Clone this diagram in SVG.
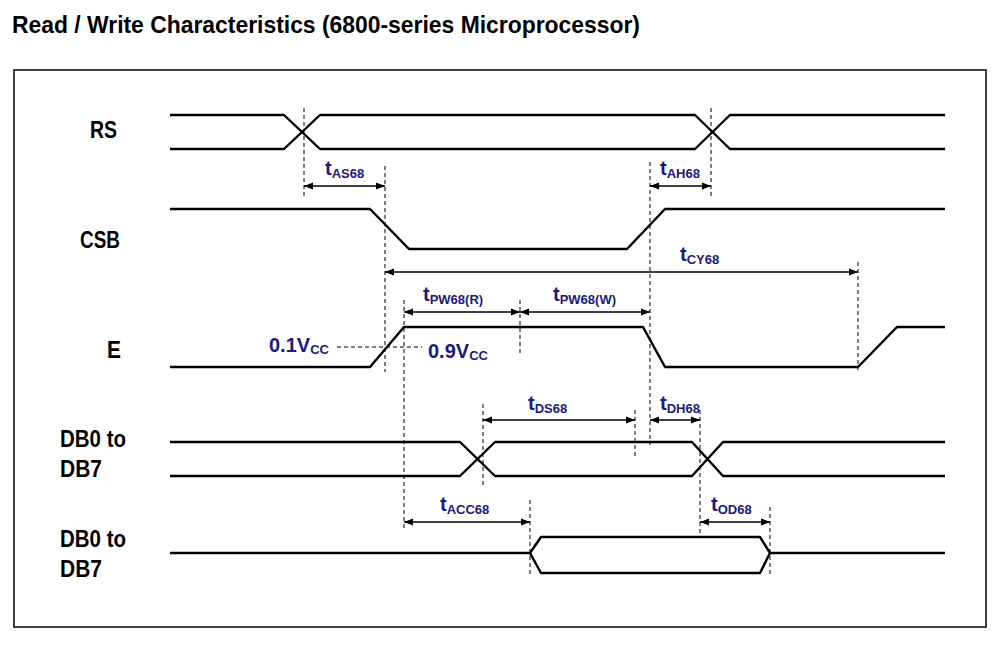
<svg xmlns="http://www.w3.org/2000/svg" width="1000" height="667" viewBox="0 0 1000 667">
<style>
.w{fill:none;stroke:#000;stroke-width:2.4;stroke-linejoin:round}
.d{fill:none;stroke:#000;stroke-width:1;stroke-dasharray:4 3}
.a{fill:none;stroke:#000;stroke-width:1.5;marker-start:url(#ah);marker-end:url(#ah)}
.lb{font-family:"Liberation Sans",Arial,sans-serif;font-weight:bold;font-size:23px;fill:#000}
.t{font-family:"Liberation Sans",Arial,sans-serif;font-weight:bold;font-size:20px;fill:#1a1a80}
.s{font-size:13px}
</style>
<defs><marker id="ah" viewBox="0 0 10 10" refX="10" refY="5" markerWidth="9" markerHeight="9" orient="auto-start-reverse" markerUnits="userSpaceOnUse"><path d="M0,1 L10,5 L0,9 Z" fill="#000"/></marker></defs>
<rect width="1000" height="667" fill="#fff"/>
<text x="12" y="33" class="lb" font-size="25" textLength="628" lengthAdjust="spacingAndGlyphs">Read / Write Characteristics (6800-series Microprocessor)</text>
<rect x="14" y="70" width="972" height="557" fill="none" stroke="#000" stroke-width="1.5"/>
<g id="labels">
<text x="90" y="138" class="lb" textLength="27" lengthAdjust="spacingAndGlyphs">RS</text>
<text x="80" y="248" class="lb" textLength="40" lengthAdjust="spacingAndGlyphs">CSB</text>
<text x="107" y="358" class="lb" textLength="14" lengthAdjust="spacingAndGlyphs">E</text>
<text x="60" y="447" class="lb" textLength="66" lengthAdjust="spacingAndGlyphs">DB0 to</text>
<text x="60" y="477" class="lb" textLength="42" lengthAdjust="spacingAndGlyphs">DB7</text>
<text x="60" y="547" class="lb" textLength="66" lengthAdjust="spacingAndGlyphs">DB0 to</text>
<text x="60" y="577" class="lb" textLength="42" lengthAdjust="spacingAndGlyphs">DB7</text>
</g>
<g id="waveforms">
<path class="w" d="M170,115 H284 L320,149 H695 L730,115 H945"/>
<path class="w" d="M170,149 H284 L320,115 H695 L730,149 H945"/>
<path class="w" d="M170,209 H370 L409,249 H627 L665,209 H945"/>
<path class="w" d="M170,367 H370 L404,327 H643 L665,367 H858 L897,327 H945"/>
<path class="w" d="M170,442 H460 L495,476 H692 L723,442 H945"/>
<path class="w" d="M170,476 H460 L495,442 H692 L723,476 H945"/>
<path class="w" d="M170,553 H530 L541,537 H760 L770,553 L760,573 H541 L530,553 M770,553 H945"/>
</g>
<g id="connectors">
<path class="d" d="M304,108 V198 M385,166 V372 M650,162 V445 M711,108 V198 M858,262 V370 M404,300 V530 M520,300 V355 M483,404 V488 M635,410 V458 M700,410 V535 M530,500 V575 M770,507 V575 M337,347 H422"/>
<path class="a" d="M304,186 H385"/>
<path class="a" d="M650,186 H711"/>
<path class="a" d="M385,272 H858"/>
<path class="a" d="M404,312 H520"/>
<path class="a" d="M520,312 H650"/>
<path class="a" d="M483,420 H635"/>
<path class="a" d="M650,420 H700"/>
<path class="a" d="M404,522 H530"/>
<path class="a" d="M700,522 H770"/>
</g>
<g id="timing-labels">
<text x="325" y="175" class="t">t<tspan class="s" dy="3">AS68</tspan></text>
<text x="660" y="175" class="t">t<tspan class="s" dy="3">AH68</tspan></text>
<text x="680" y="261" class="t">t<tspan class="s" dy="3">CY68</tspan></text>
<text x="423" y="301" class="t">t<tspan class="s" dy="3">PW68(R)</tspan></text>
<text x="553" y="301" class="t">t<tspan class="s" dy="3">PW68(W)</tspan></text>
<text x="528" y="410" class="t">t<tspan class="s" dy="3">DS68</tspan></text>
<text x="660" y="410" class="t">t<tspan class="s" dy="3">DH68</tspan></text>
<text x="440" y="511" class="t">t<tspan class="s" dy="3">ACC68</tspan></text>
<text x="711" y="511" class="t">t<tspan class="s" dy="3">OD68</tspan></text>
<text x="269" y="352" class="t" font-size="19">0.1V<tspan class="s" dy="2">CC</tspan></text>
<text x="428" y="358" class="t" font-size="19">0.9V<tspan class="s" dy="2">CC</tspan></text>
</g>
</svg>
